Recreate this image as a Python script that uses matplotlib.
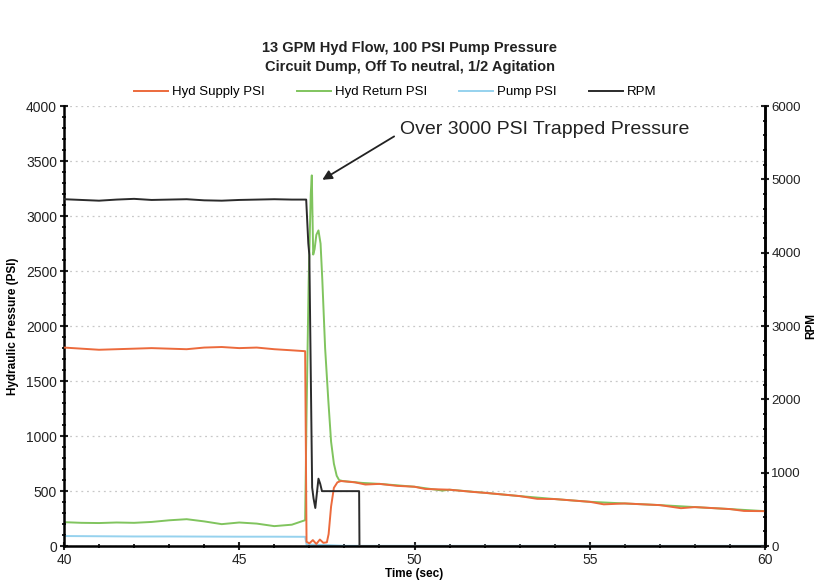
import numpy as np
import matplotlib.pyplot as plt
from matplotlib.ticker import MultipleLocator

plt.rcParams['font.family'] = ['Liberation Sans', 'DejaVu Sans']

# time (sec) and values
supply_t = [40, 40.5, 41, 41.5, 42, 42.5, 43, 43.5, 44, 44.5, 45, 45.5, 46, 46.5, 46.88,
            46.92, 47.0, 47.1, 47.2, 47.3, 47.4, 47.5, 47.55, 47.62, 47.7, 47.8, 47.9,
            48.3, 48.6, 49, 49.5, 50, 50.3, 51, 51.7, 52, 53, 53.5, 54, 55, 55.4, 56,
            57, 57.6, 58, 59, 59.4, 60]
supply_psi = [1805, 1795, 1785, 1790, 1795, 1800, 1795, 1790, 1805, 1810, 1800, 1805, 1790, 1780, 1772,
              40, 25, 55, 20, 60, 30, 35, 110, 360, 530, 580, 592,
              580, 560, 566, 548, 540, 520, 513, 492, 485, 455, 430, 428, 403, 380, 388,
              373, 345, 355, 337, 320, 318]

return_t = [40, 40.5, 41, 41.5, 42, 42.5, 43, 43.5, 44, 44.5, 45, 45.5, 46, 46.5, 46.88,
            46.92, 46.98, 47.04, 47.07, 47.09, 47.11, 47.15, 47.2, 47.26, 47.32, 47.37,
            47.45, 47.54, 47.62, 47.7, 47.78, 47.85, 47.95, 48.5, 49, 50, 50.8, 51, 52,
            53, 54, 55, 56, 57, 58, 59, 60]
return_psi = [218, 212, 210, 215, 212, 220, 235, 245, 225, 200, 215, 205, 182, 195, 236,
              1200, 2400, 3200, 3370, 3000, 2650, 2700, 2830, 2870, 2750, 2420,
              1800, 1330, 950, 750, 640, 600, 592, 575, 566, 540, 505, 513, 485,
              455, 428, 403, 388, 373, 355, 337, 318]

pump_t = [40, 41, 42, 43, 44, 45, 46, 46.88, 46.92, 47.5, 48, 60]
pump_psi = [92, 90, 88, 88, 87, 86, 86, 85, 15, 10, 3, 3]

rpm_t = [40, 40.5, 41, 41.5, 42, 42.5, 43, 43.5, 44, 44.5, 45, 45.5, 46, 46.5, 46.91,
         46.97, 47.0, 47.08, 47.12, 47.17, 47.21, 47.26, 47.31, 47.36, 48.42, 48.43, 60]
rpm = [4730, 4720, 4710, 4725, 4735, 4720, 4725, 4730, 4715, 4710, 4720, 4725, 4730, 4725, 4725,
       4130, 3970, 800, 650, 520, 700, 920, 850, 750, 750, 0, 0]

c_supply = '#ec6a3c'
c_return = '#80c45e'
c_pump = '#96d2ee'
c_rpm = '#2b2b2b'

fig = plt.figure(figsize=(8.2, 5.86), dpi=100)
ax = fig.add_axes([0.078, 0.068, 0.855, 0.751])
ax2 = ax.twinx()

l1, = ax.plot(supply_t, supply_psi, color=c_supply, lw=1.4, label='Hyd Supply PSI', zorder=3)
l2, = ax.plot(return_t, return_psi, color=c_return, lw=1.4, label='Hyd Return PSI', zorder=2)
l3, = ax.plot(pump_t, pump_psi, color=c_pump, lw=1.4, label='Pump PSI', zorder=2)
l4, = ax2.plot(rpm_t, rpm, color=c_rpm, lw=1.4, label='RPM')

ax.set_xlim(40, 60)
ax.set_ylim(0, 4000)
ax2.set_ylim(0, 6000)

ax.xaxis.set_major_locator(MultipleLocator(5))
ax.xaxis.set_minor_locator(MultipleLocator(1))
ax.yaxis.set_major_locator(MultipleLocator(500))
ax.yaxis.set_minor_locator(MultipleLocator(100))
ax2.yaxis.set_major_locator(MultipleLocator(1000))
ax2.yaxis.set_minor_locator(MultipleLocator(200))

ax.grid(True, axis='y', color='#c8c8c8', linestyle=(0, (1.5, 3)), lw=0.9)
ax.set_axisbelow(True)

for a in (ax, ax2):
    a.spines['top'].set_visible(False)
    for s in ('left', 'right', 'bottom'):
        a.spines[s].set_linewidth(1.8)
    a.tick_params(which='major', direction='inout', length=6, width=1.5, labelsize=10,
                  colors='#222222', pad=2)
    a.tick_params(which='minor', direction='inout', length=3, width=1.2)
ax2.spines['left'].set_visible(False)
ax2.spines['bottom'].set_visible(False)
ax2.tick_params(which='major', labelsize=9.5, pad=1.5)

ax.set_xlabel('Time (sec)', fontsize=8.5, fontweight='bold', labelpad=1)
ax.set_ylabel('Hydraulic Pressure (PSI)', fontsize=8.5, fontweight='bold', labelpad=5)
ax2.set_ylabel('RPM', fontsize=8.5, fontweight='bold', labelpad=3)

fig.text(0.5, 0.902, '13 GPM Hyd Flow, 100 PSI Pump Pressure\nCircuit Dump, Off To neutral, 1/2 Agitation',
         ha='center', va='center', fontsize=10.5, fontweight='bold', linespacing=1.5, color='#222222')

ax.annotate('Over 3000 PSI Trapped Pressure', xy=(47.37, 3330), xytext=(49.6, 3790),
            fontsize=14, color='#222222', va='center', ha='left',
            arrowprops=dict(arrowstyle='-|>', color='#222222', lw=1.3, mutation_scale=14,
                            shrinkA=3, shrinkB=0, relpos=(0, 0.3)))

fig.legend(handles=[l1, l2, l3, l4], loc='center', bbox_to_anchor=(0.482, 0.843), ncol=4,
           frameon=False, fontsize=9.5, handlelength=2.6, columnspacing=2.4, handletextpad=0.3)

fig.savefig('out.png', dpi=100)
